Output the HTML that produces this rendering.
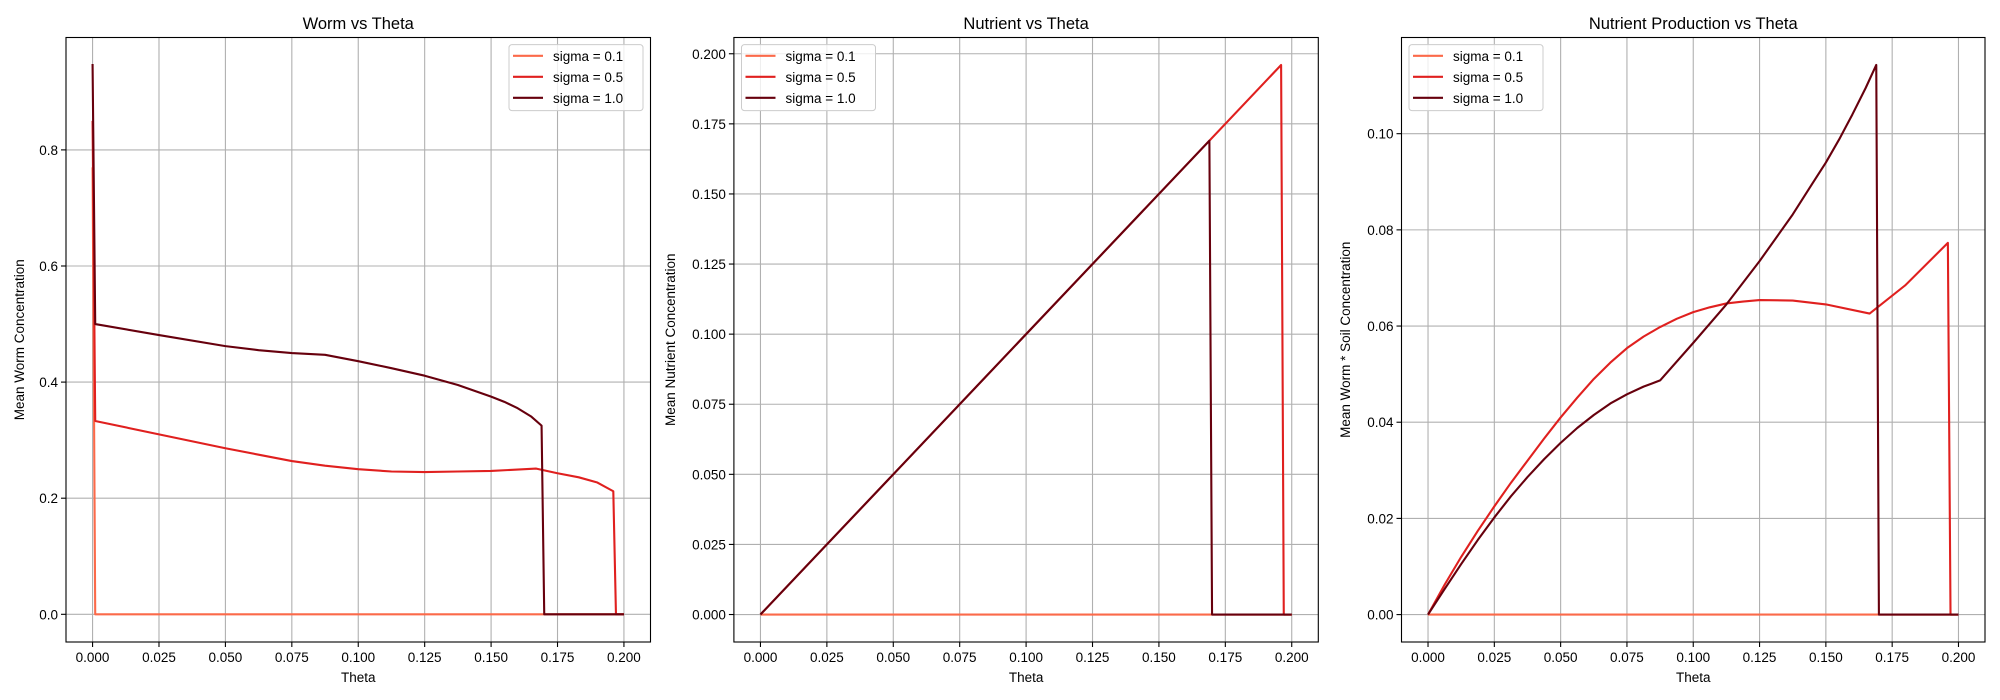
<!DOCTYPE html>
<html><head><meta charset="utf-8"><style>
html,body{margin:0;padding:0;background:#fff;}
svg{display:block;font-family:"Liberation Sans","DejaVu Sans",sans-serif;}
</style></head><body>
<svg id="fig" width="2000" height="700" viewBox="0 0 2000 700" xmlns="http://www.w3.org/2000/svg"></svg>
<script>
const seriesNames = ["sigma = 0.1","sigma = 0.5","sigma = 1.0"];
const seriesColors = ["#fb6a4a","#e0201f","#67000d"];
const xTicks = [0,0.025,0.05,0.075,0.1,0.125,0.15,0.175,0.2];
const xTickLabels = ["0.000","0.025","0.050","0.075","0.100","0.125","0.150","0.175","0.200"];

// Panel 1: Worm vs Theta
const wormS01X = [0,0.001,0.2];
const wormS01Y = [0.77,0,0];
const wormS05X = [0,0.001,0.025,0.05,0.0625,0.075,0.0875,0.1,0.1125,0.125,0.1375,0.15,0.167,0.175,0.183,0.19,0.196,0.197,0.2];
const wormS05Y = [0.85,0.333,0.310,0.286,0.275,0.264,0.256,0.250,0.246,0.245,0.246,0.247,0.251,0.243,0.236,0.227,0.212,0,0];
const wormS10X = [0,0.001,0.025,0.05,0.0625,0.075,0.0875,0.1,0.1125,0.125,0.1375,0.15,0.155,0.16,0.165,0.169,0.170,0.2];
const wormS10Y = [0.948,0.5,0.481,0.462,0.455,0.450,0.447,0.436,0.424,0.411,0.395,0.375,0.366,0.355,0.341,0.325,0,0];
const wormYTicks = [0,0.2,0.4,0.6,0.8];
const wormYLabels = ["0.0","0.2","0.4","0.6","0.8"];

// Panel 2: Nutrient vs Theta
const nutS01X = [0,0.2];
const nutS01Y = [0,0];
const nutS05X = [0,0.196,0.197,0.2];
const nutS05Y = [0,0.196,0,0];
const nutS10X = [0,0.169,0.170,0.2];
const nutS10Y = [0,0.169,0,0];
const nutYTicks = [0,0.025,0.05,0.075,0.1,0.125,0.15,0.175,0.2];
const nutYLabels = ["0.000","0.025","0.050","0.075","0.100","0.125","0.150","0.175","0.200"];

// Panel 3: Nutrient Production vs Theta
const prodS01X = [0,0.2];
const prodS01Y = [0,0];
const prodS05X = [0,0.00625,0.0125,0.01875,0.025,0.03125,0.0375,0.04375,0.05,0.05625,0.0625,0.06875,0.075,0.08125,0.0875,0.09375,0.1,0.10625,0.1125,0.11875,0.125,0.1375,0.15,0.1665,0.18,0.196,0.197,0.2];
const prodS05Y = [0,0.0062,0.0120,0.0174,0.0225,0.0274,0.0320,0.0366,0.0410,0.0451,0.0490,0.0524,0.0554,0.0578,0.0598,0.0615,0.0629,0.0639,0.0647,0.0651,0.0654,0.0653,0.0645,0.0626,0.0685,0.0773,0,0];
const prodS10X = [0,0.00625,0.0125,0.01875,0.025,0.03125,0.0375,0.04375,0.05,0.05625,0.0625,0.06875,0.075,0.08125,0.0875,0.1,0.1125,0.125,0.1375,0.145,0.15,0.155,0.16,0.165,0.169,0.170,0.2];
const prodS10Y = [0,0.0053,0.0105,0.0155,0.0202,0.0246,0.0286,0.0323,0.0357,0.0388,0.0415,0.0439,0.0458,0.0474,0.0487,0.0565,0.0645,0.0735,0.0832,0.0897,0.094,0.0988,0.104,0.1095,0.1143,0,0];
const prodYTicks = [0,0.02,0.04,0.06,0.08,0.1];
const prodYLabels = ["0.00","0.02","0.04","0.06","0.08","0.10"];

const NS="http://www.w3.org/2000/svg";
const fig=document.getElementById('fig');
function mk(tag,attrs,parent){const e=document.createElementNS(NS,tag);for(const k in attrs)e.setAttribute(k,attrs[k]);(parent||fig).appendChild(e);return e;}

function panel(p){
  const g=mk('g',{});
  
  
  const sx=v=>p.L+(v-p.xmin)/(p.xmax-p.xmin)*(p.R-p.L);
  const sy=v=>p.B-(v-p.ymin)/(p.ymax-p.ymin)*(p.B-p.T);
  xTicks.forEach((t,i)=>{
    const x=sx(t);
    const gl=mk('line',{x1:x,x2:x,y1:p.T,y2:p.B,stroke:'#b0b0b0','stroke-width':1.1},g);
    
    
    mk('line',{x1:x,x2:x,y1:p.B,y2:p.B+5,stroke:'#000','stroke-width':1.1},g);
    const tl=mk('text',{x:x,y:p.B+20,'text-anchor':'middle','font-size':13.5,fill:'#000'},g);
    tl.textContent=xTickLabels[i];
    
    
  });
  p.yt.forEach((t,i)=>{
    const y=sy(t);
    const gl=mk('line',{x1:p.L,x2:p.R,y1:y,y2:y,stroke:'#b0b0b0','stroke-width':1.1},g);
    
    
    mk('line',{x1:p.L-5,x2:p.L,y1:y,y2:y,stroke:'#000','stroke-width':1.1},g);
    const tl=mk('text',{x:p.L-8,y:y+5,'text-anchor':'end','font-size':13.5,fill:'#000'},g);
    tl.textContent=p.yl[i];
    
    
  });
  p.series.forEach((s,i)=>{
    const pts=s[0].map((xv,j)=>sx(xv).toFixed(2)+','+sy(s[1][j]).toFixed(2)).join(' ');
    const pl=mk('polyline',{points:pts,fill:'none',stroke:seriesColors[i],'stroke-width':2.1,'stroke-linejoin':'round'},g);
    
    
  });
  const fr=mk('rect',{x:p.L,y:p.T,width:p.R-p.L,height:p.B-p.T,fill:'none',stroke:'#000','stroke-width':1.1},g);
  
  
  const tt=mk('text',{x:(p.L+p.R)/2,y:29,'text-anchor':'middle','font-size':16.5,fill:'#000'},g);
  tt.textContent=p.title;
  
  
  const xl=mk('text',{x:(p.L+p.R)/2,y:682,'text-anchor':'middle','font-size':13.5,fill:'#000'},g);
  xl.textContent='Theta';
  
  
  const cy=(p.T+p.B)/2;
  const yl=mk('text',{x:p.ylx,y:cy,'text-anchor':'middle','font-size':13.5,fill:'#000',transform:'rotate(-90 '+p.ylx+' '+cy+')'},g);
  yl.textContent=p.ytitle;
  
  
  const lg=mk('g',{},g);
  
  
  mk('rect',{x:p.lgx,y:44.6,width:p.lgw,height:66,rx:3,fill:'#fff','fill-opacity':0.8,stroke:'#cccccc','stroke-width':1},lg);
  seriesNames.forEach((n,i)=>{
    const y=55.8+i*21;
    const e=mk('g',{},lg);
    
    
    mk('line',{x1:p.lgx+4,x2:p.lgx+34,y1:y,y2:y,stroke:seriesColors[i],'stroke-width':2.1},e);
    const t=mk('text',{x:p.lgx+44,y:y+5,'font-size':13.5,fill:'#000'},e);
    t.textContent=n;
  });
}

panel({id:'worm-chart',title:'Worm vs Theta',ytitle:'Mean Worm Concentration',
  L:66,R:650.5,T:37.5,B:642,xmin:-0.01,xmax:0.21,ymin:-0.0477,ymax:0.9936,
  yt:wormYTicks,yl:wormYLabels,ylx:24,lgx:509,lgw:134,
  series:[[wormS01X,wormS01Y],[wormS05X,wormS05Y],[wormS10X,wormS10Y]]});
panel({id:'nutrient-chart',title:'Nutrient vs Theta',ytitle:'Mean Nutrient Concentration',
  L:733.9,R:1318.3,T:37.5,B:642,xmin:-0.01,xmax:0.21,ymin:-0.0098,ymax:0.2058,
  yt:nutYTicks,yl:nutYLabels,ylx:675,lgx:741.5,lgw:134,
  series:[[nutS01X,nutS01Y],[nutS05X,nutS05Y],[nutS10X,nutS10Y]]});
panel({id:'production-chart',title:'Nutrient Production vs Theta',ytitle:'Mean Worm * Soil Concentration',
  L:1401.5,R:1985,T:37.5,B:642,xmin:-0.01,xmax:0.21,ymin:-0.0057,ymax:0.1200,
  yt:prodYTicks,yl:prodYLabels,ylx:1350,lgx:1409,lgw:134,
  series:[[prodS01X,prodS01Y],[prodS05X,prodS05Y],[prodS10X,prodS10Y]]});
</script>
</body></html>
